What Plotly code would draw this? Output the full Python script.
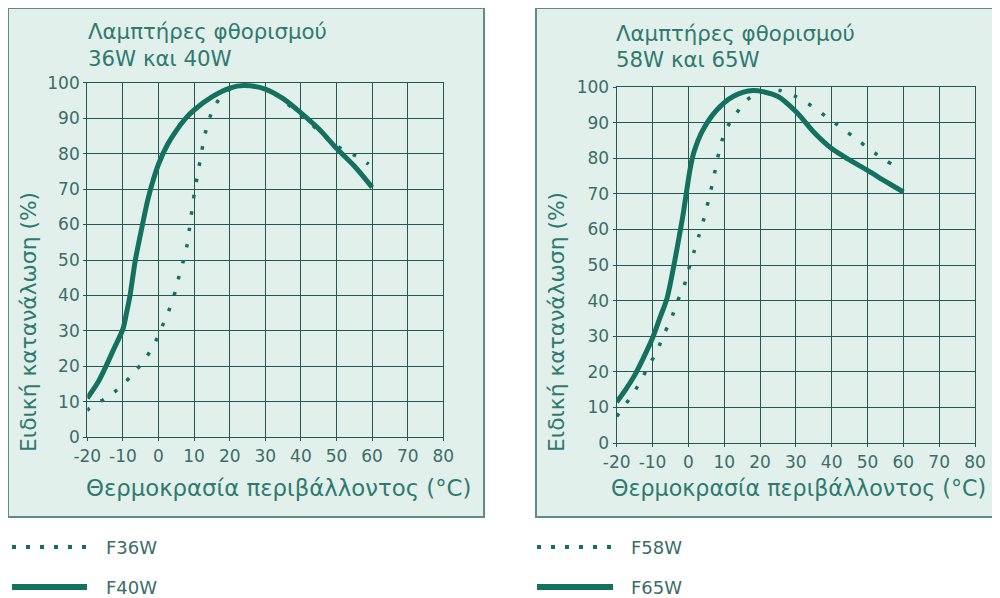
import plotly.graph_objects as go

# ---------------- data ----------------
x_ticks = [-20, -10, 0, 10, 20, 30, 40, 50, 60, 70, 80]
x_tick_text = ["-20", "-10", "0", "10", "20", "30", "40", "50", "60", "70", "80"]
y_ticks = [0, 10, 20, 30, 40, 50, 60, 70, 80, 90, 100]

# Left panel: 36W / 40W
f36w_x = [-20, -19.4, -15, -11, -7.5, -4.2, -1.4, 0.6, 2.7, 4.3, 5.5, 6.8, 8, 8.7, 9.4, 10.1, 11, 11.9, 12.8, 14, 16, 19, 23, 28, 33, 38, 44.6, 48.4, 52, 57, 59]
f36w_y = [7.5, 8.2, 10.9, 13.9, 17.5, 21.5, 25.8, 30.3, 35.2, 39.7, 44.4, 49.1, 54.1, 58.9, 64.1, 69.1, 74.2, 79.2, 84.2, 89.1, 93.8, 97.6, 99, 98.8, 96.5, 92.5, 86.8, 83.4, 81, 78.6, 77]

f40w_x = [-20, -17, -15, -12.5, -10, -9, -8, -6.5, -4.5, -3, -1.5, 0, 2.5, 5, 7.5, 10, 15, 20, 24, 30, 35, 40, 45, 50, 55, 60]
f40w_y = [11, 15.5, 19.5, 25, 30.5, 35, 40, 50, 60, 67, 72.5, 77, 82.5, 86.5, 89.8, 92.3, 96, 98.5, 99.2, 98.2, 95.5, 91.5, 87, 81.5, 76.5, 70.5]

# Right panel: 58W / 65W
f58w_x = [-20, -19.3, -16.3, -13.5, -11.2, -8.8, -6.9, -4.8, -3.2, -1.3, 0.1, 1.6, 3, 4.4, 5.6, 6.8, 7.8, 8.9, 10.4, 13.1, 16.2, 20, 25.6, 30.2, 34.7, 38.7, 42.9, 46.9, 50.9, 55, 59.2]
f58w_y = [7.5, 8.4, 12.6, 17, 21.5, 25.7, 30.4, 34.8, 39.4, 43.8, 48.9, 53.8, 58.4, 63.2, 68.1, 73.3, 78.2, 83.2, 87.9, 92.2, 96.2, 98.5, 99, 97.2, 94.5, 91.5, 88.4, 85.4, 82.3, 79.4, 76.9]

f65w_x = [-20, -17.5, -15, -12.5, -10, -8, -6, -4.5, -3, -1.5, -0.6, 0.5, 1.5, 4, 8, 12.6, 18, 24.9, 30, 35.3, 40, 45, 50, 55, 60]
f65w_y = [11.5, 15, 19, 24, 29.5, 35, 40.5, 47.5, 55.5, 64, 70, 77, 81.5, 87.8, 93.6, 97.4, 99, 97.4, 93.1, 87, 82.7, 79.5, 76.6, 73.5, 70.5]

title_left = ["Λαμπτήρες φθορισμού", "36W και 40W"]
title_right = ["Λαμπτήρες φθορισμού", "58W και 65W"]
x_title = "Θερμοκρασία περιβάλλοντος (°C)"
y_title = "Ειδική κατανάλωση (%)"
legend_left = ["F36W", "F40W"]
legend_right = ["F58W", "F65W"]

# ---------------- style ----------------
# The page body has an 8px margin, so the figure is sized to fill the
# remaining window and all page positions below are shifted by that offset.
OFF = 8
W, H = 1000 - OFF, 598 - OFF
LINE = "#14705f"
GRID = "#24594f"
TXT = "#2f7a6e"
TICK = "#3c6d66"
BG = "#e2f0ec"
BORDER = "#5f8c86"
FONT = "DejaVu Sans"


def px(x):
    return (x - OFF) / W


def py(y):
    return 1 - (y - OFF) / H


fig = go.Figure()

panels = [
    dict(xa="x", ya="y", dom_x=(87.3, 443.3), dom_y=(82.7, 437.3),
         dotted=(f36w_x, f36w_y, legend_left[0]), solid=(f40w_x, f40w_y, legend_left[1])),
    dict(xa="x2", ya="y2", dom_x=(616.7, 975), dom_y=(87, 443),
         dotted=(f58w_x, f58w_y, legend_right[0]), solid=(f65w_x, f65w_y, legend_right[1])),
]

for p in panels:
    dx, dy, dn = p["dotted"]
    sx, sy, sn = p["solid"]
    fig.add_trace(go.Scatter(x=dx, y=dy, name=dn, mode="lines", xaxis=p["xa"], yaxis=p["ya"],
                             line=dict(color=LINE, width=3.5, dash="3.5px,13px", shape="spline", smoothing=0.8),
                             showlegend=False))
    fig.add_trace(go.Scatter(x=sx, y=sy, name=sn, mode="lines", xaxis=p["xa"], yaxis=p["ya"],
                             line=dict(color=LINE, width=5, shape="spline", smoothing=0.8),
                             showlegend=False))

axis_common = dict(showgrid=True, gridcolor=GRID, gridwidth=1.3, zeroline=False,
                   showline=True, mirror=True, linecolor=GRID, linewidth=1.3,
                   ticks="outside", ticklen=3, tickcolor=GRID, automargin=False,
                   tickfont=dict(family=FONT, size=17, color=TICK))

layout_axes = {}
for i, p in enumerate(panels):
    sfx = "" if i == 0 else str(i + 1)
    layout_axes["xaxis" + sfx] = dict(axis_common, domain=[px(p["dom_x"][0]), px(p["dom_x"][1])],
                                      range=[-20, 80], tickvals=x_ticks, ticktext=x_tick_text,
                                      tickangle=0, anchor="y" + sfx)
    layout_axes["yaxis" + sfx] = dict(axis_common, domain=[py(p["dom_y"][1]), py(p["dom_y"][0])],
                                      range=[0, 100], tickvals=y_ticks, anchor="x" + sfx)

shapes = [
    dict(type="rect", xref="paper", yref="paper", x0=px(8), x1=px(484), y0=py(517), y1=py(8),
         fillcolor=BG, line=dict(color=BORDER, width=2), layer="below"),
    dict(type="rect", xref="paper", yref="paper", x0=px(536), x1=px(1010), y0=py(517), y1=py(8),
         fillcolor=BG, line=dict(color=BORDER, width=2), layer="below"),
]

annotations = []


def ann(text, x, y, size, color=TXT, xanchor="left", textangle=0):
    annotations.append(dict(text=text, x=px(x), y=py(y), xref="paper", yref="paper",
                            xanchor=xanchor, yanchor="middle", showarrow=False, textangle=textangle,
                            font=dict(family=FONT, size=size, color=color)))


# panel titles
ann(title_left[0], 86, 31, 21.3)
ann(title_left[1], 86, 58, 21.3)
ann(title_right[0], 614, 33, 21.3)
ann(title_right[1], 614, 60, 21.3)
# axis titles
ann(x_title, 84, 488, 22.8)
ann(x_title, 609, 488, 22.2)
ann(y_title, 28, 322, 21.8, xanchor="center", textangle=-90)
ann(y_title, 556, 322, 21.8, xanchor="center", textangle=-90)

# legends (sample line + label)
for lx0, lx1, tx, labels in [(12, 87, 104, legend_left), (537, 613, 629, legend_right)]:
    shapes.append(dict(type="line", xref="paper", yref="paper", x0=px(lx0), x1=px(lx1),
                       y0=py(547), y1=py(547), line=dict(color=LINE, width=4, dash="4px,10px")))
    shapes.append(dict(type="line", xref="paper", yref="paper", x0=px(lx0), x1=px(lx1),
                       y0=py(587), y1=py(587), line=dict(color=LINE, width=6)))
    ann(labels[0], tx, 547, 18, color=TICK)
    ann(labels[1], tx, 587, 18, color=TICK)

fig.update_layout(width=W, height=H, margin=dict(l=0, r=0, t=0, b=0, autoexpand=False),
                  paper_bgcolor="white", plot_bgcolor="rgba(0,0,0,0)",
                  shapes=shapes, annotations=annotations, showlegend=False, **layout_axes)

fig.write_html("out.html")
